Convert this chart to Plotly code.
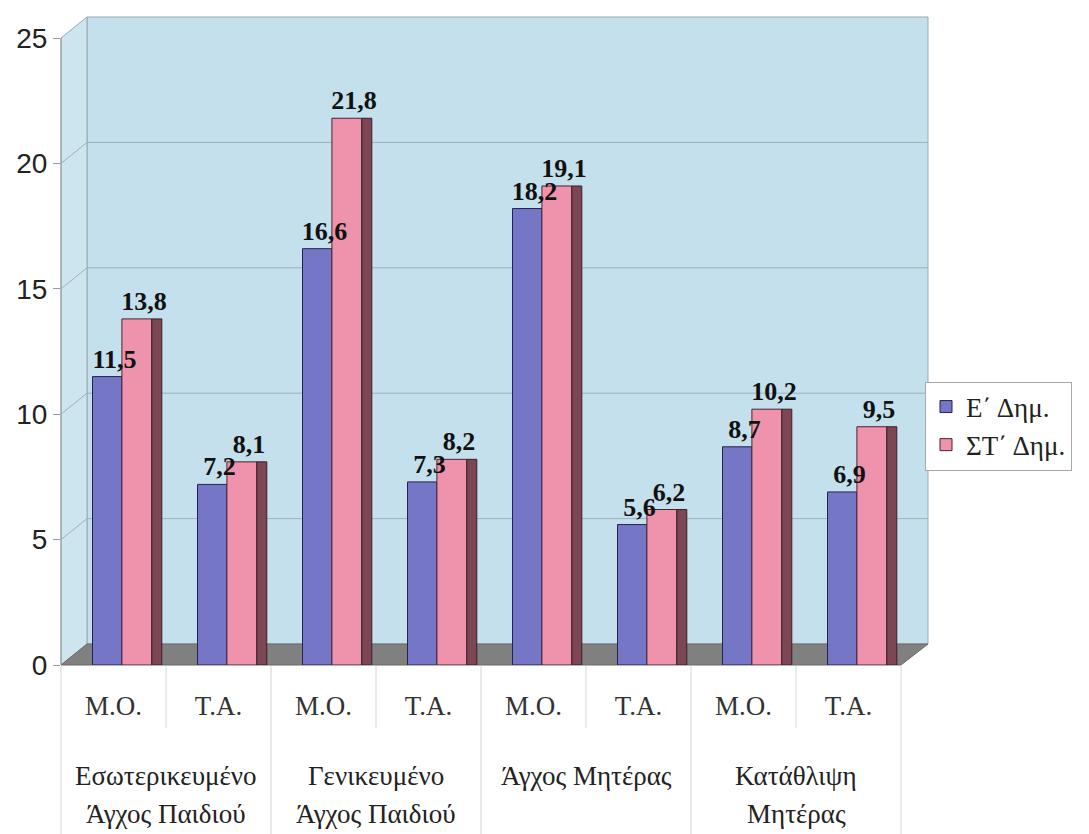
import plotly.graph_objects as go

# ---- data -------------------------------------------------------------
groups = ["Εσωτερικευμένο\nΆγχος Παιδιού", "Γενικευμένο\nΆγχος Παιδιού",
          "Άγχος Μητέρας", "Κατάθλιψη\nΜητέρας"]
measures = ["Μ.Ο.", "Τ.Α."]
series_names = ["Ε΄ Δημ.", "ΣΤ΄ Δημ."]
grade5 = [11.5, 7.2, 16.6, 7.3, 18.2, 5.6, 8.7, 6.9]
grade6 = [13.8, 8.1, 21.8, 8.2, 19.1, 6.2, 10.2, 9.5]
y_ticks = [0, 5, 10, 15, 20, 25]

# ---- layout geometry (pixels) ----------------------------------------
W, H = 1089, 834
LEFT, RIGHT, TOP, BOTTOM = 61, 928, 17, 665   # plot box incl. depth
SLOT = 105                                    # px per category
UNIT = (665 - 38) / 25                        # px per y unit (front plane)
DX, DY = 26, 21                               # 3-D depth offset

pw, ph = RIGHT - LEFT, BOTTOM - TOP


def px_x(px):
    return (px - LEFT) / pw


def px_y(py):
    return (BOTTOM - py) / ph


n = len(grade5)
xs = list(range(n))
sub_labels = [measures[i % 2] for i in range(n)]


def fmt(v):
    return f"{v:.1f}".replace(".", ",")


label_font = dict(family="Liberation Serif", size=26, color="#111111", weight="bold")
CLEAR = "rgba(0,0,0,0)"

fig = go.Figure()
fig.add_trace(go.Bar(
    x=xs, y=grade5, name=series_names[0], offset=-0.20, width=0.28,
    marker=dict(color="#7676C6", line=dict(color="#23234f", width=1)),
    hoverinfo="x+y",
))
fig.add_trace(go.Bar(
    x=xs, y=grade6, name=series_names[1], offset=0.08, width=0.285,
    marker=dict(color="#EE93AB", line=dict(color="#4a2530", width=1)),
    hoverinfo="x+y",
))
# shaded side face of the rear bars
fig.add_trace(go.Bar(
    x=xs, y=grade6, offset=0.365, width=0.095, showlegend=False, hoverinfo="skip",
    marker=dict(color="#7D4655", line=dict(color="#3a1f26", width=1)),
))
# value labels, drawn last so they sit above every bar
for vals, off in ((grade5, -0.13), (grade6, 0.15)):
    fig.add_trace(go.Bar(
        x=xs, y=vals, offset=off, width=0.28, showlegend=False, hoverinfo="skip",
        marker=dict(color=CLEAR, line=dict(width=0)),
        text=[fmt(v) for v in vals], textposition="outside", textfont=label_font,
        constraintext="none", cliponaxis=False,
    ))

shapes = []
# back wall
shapes.append(dict(type="rect", xref="paper", yref="paper", layer="below",
                   x0=px_x(LEFT + DX), x1=px_x(RIGHT), y0=px_y(BOTTOM - DY), y1=px_y(TOP),
                   fillcolor="#C4E0EC", line=dict(color="#9aa9b0", width=1)))
# left wall
shapes.append(dict(type="path", xref="paper", yref="paper", layer="below",
                   path=f"M {px_x(LEFT)} {px_y(BOTTOM)} L {px_x(LEFT + DX)} {px_y(BOTTOM - DY)} "
                        f"L {px_x(LEFT + DX)} {px_y(TOP)} L {px_x(LEFT)} {px_y(TOP + DY)} Z",
                   fillcolor="#CCE5EF", line=dict(color="#9aa9b0", width=1)))
# floor
front_right = LEFT + n * SLOT
shapes.append(dict(type="path", xref="paper", yref="paper", layer="below",
                   path=f"M {px_x(LEFT)} {px_y(BOTTOM)} L {px_x(front_right)} {px_y(BOTTOM)} "
                        f"L {px_x(RIGHT)} {px_y(BOTTOM - DY)} L {px_x(LEFT + DX)} {px_y(BOTTOM - DY)} Z",
                   fillcolor="#808080", line=dict(color="#6a6a6a", width=1)))
# gridlines on the walls
for v in y_ticks[1:-1]:
    yf = v * UNIT
    shapes.append(dict(type="line", xref="paper", yref="paper", layer="below",
                       x0=px_x(LEFT + DX), x1=px_x(RIGHT),
                       y0=(yf + DY) / ph, y1=(yf + DY) / ph,
                       line=dict(color="#9fb1b9", width=1)))
    shapes.append(dict(type="line", xref="paper", yref="paper", layer="below",
                       x0=0, x1=px_x(LEFT + DX), y0=yf / ph, y1=(yf + DY) / ph,
                       line=dict(color="#9fb1b9", width=1)))
# value axis line
shapes.append(dict(type="line", xref="paper", yref="paper",
                   x0=0, x1=0, y0=0, y1=25 * UNIT / ph,
                   line=dict(color="#9a9a9a", width=1)))
# category table dividers
for k in range(n + 1):
    xp = px_x(LEFT + k * SLOT)
    y_end = px_y(H) if k % 2 == 0 else px_y(728)
    shapes.append(dict(type="line", xref="paper", yref="paper",
                       x0=xp, x1=xp, y0=px_y(BOTTOM + 1), y1=y_end,
                       line=dict(color="#d6d6d6", width=1)))

annotations = []
group_font = dict(family="Liberation Serif", size=27, color="#222222")
for g, name in enumerate(groups):
    for li, line in enumerate(name.split("\n")):
        annotations.append(dict(xref="x", yref="paper", x=2 * g + 0.5,
                                y=px_y(776 + 38 * li), yanchor="middle",
                                text=line, showarrow=False, font=group_font))

fig.update_layout(
    width=W, height=H,
    margin=dict(l=LEFT, r=W - RIGHT, t=TOP, b=H - BOTTOM),
    paper_bgcolor="white", plot_bgcolor=CLEAR,
    barmode="overlay",
    showlegend=True,
    legend=dict(x=px_x(925), xanchor="left", y=px_y(426), yanchor="middle",
                font=dict(family="Liberation Serif", size=27, color="#222222"),
                bordercolor="#a8a8a8", borderwidth=1, bgcolor="white",
                tracegroupgap=2),
    xaxis=dict(range=[-0.5, -0.5 + pw / SLOT], tickmode="array", tickvals=xs,
               ticktext=sub_labels, showgrid=False, zeroline=False, showline=False,
               ticks="", ticklabelstandoff=22,
               tickfont=dict(family="Liberation Serif", size=27, color="#333333")),
    yaxis=dict(range=[0, ph / UNIT], tickmode="array", tickvals=y_ticks,
               showgrid=False, zeroline=False, showline=False,
               ticks="outside", ticklen=7, tickcolor="#9a9a9a",
               tickfont=dict(family="Liberation Sans", size=28, color="#222222")),
    shapes=shapes, annotations=annotations,
)

fig.write_html("out.html")
